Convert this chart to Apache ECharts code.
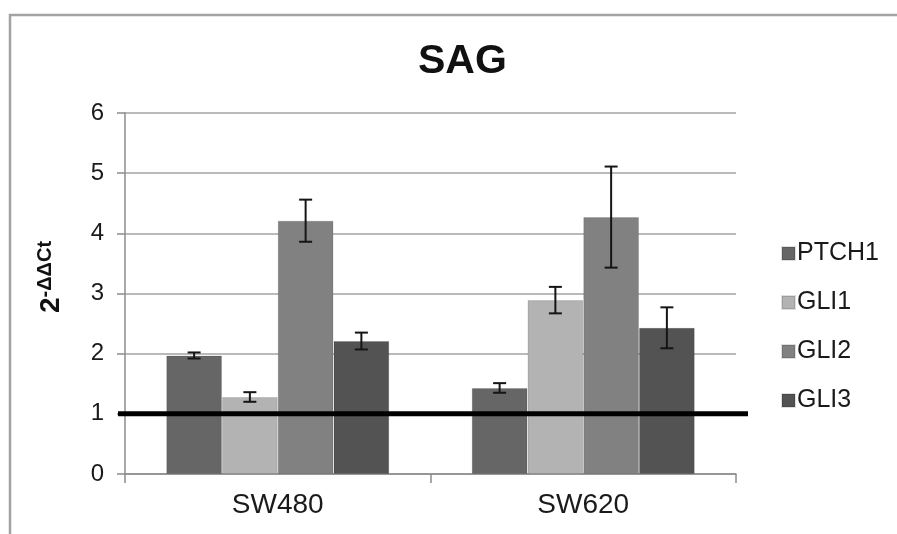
<!DOCTYPE html>
<html>
<head>
<meta charset="utf-8">
<script src="https://cdn.jsdelivr.net/npm/echarts@6/dist/echarts.min.js"></script>
<style>html,body{margin:0;padding:0;background:#fff;}#c{width:897px;height:534px;}</style>
</head>
<body>
<div id="c"></div>
<script>
const categories = ['SW480', 'SW620'];
const seriesNames = ['PTCH1', 'GLI1', 'GLI2', 'GLI3'];
const PTCH1 = [1.97, 1.43];
const GLI1 = [1.28, 2.89];
const GLI2 = [4.21, 4.27];
const GLI3 = [2.21, 2.43];
const PTCH1_err = [0.05, 0.08];
const GLI1_err = [0.08, 0.22];
const GLI2_err = [0.35, 0.84];
const GLI3_err = [0.14, 0.34];
const yTicks = [0, 1, 2, 3, 4, 5, 6];
const refValue = 1;

const values = [PTCH1, GLI1, GLI2, GLI3];
const errs = [PTCH1_err, GLI1_err, GLI2_err, GLI3_err];
const colors = ['#666666', '#b3b3b3', '#818181', '#535353'];
const catGap = 0.27;
const font = "'Liberation Sans', Arial, sans-serif";

const errData = [];
values.forEach((vals, si) => vals.forEach((v, ci) => errData.push([ci, si, v, errs[si][ci]])));

const chart = echarts.init(document.getElementById('c'));
const barSeries = seriesNames.map((n, i) => ({
  name: n, type: 'bar', data: values[i],
  barGap: '0%', barCategoryGap: (catGap * 100) + '%',
  itemStyle: { color: colors[i], borderColor: 'rgba(0,0,0,0.12)', borderWidth: 1 },
  z: 2
}));

chart.setOption({
  animation: false,
  backgroundColor: '#fff',
  textStyle: { fontFamily: font },
  title: {
    text: 'SAG', left: 413, top: 36,
    textStyle: { fontFamily: font, fontSize: 41, fontWeight: 'bold', color: '#111' }
  },
  legend: {
    orient: 'vertical', left: 776, top: 236,
    itemWidth: 13, itemHeight: 13, itemGap: 24, icon: 'rect',
    data: seriesNames,
    textStyle: { fontFamily: font, fontSize: 25, color: '#1a1a1a', lineHeight: 21, padding: [0, 0, 0, -3] }
  },
  grid: { left: 125, right: 161, top: 113, bottom: 60, containLabel: false },
  graphic: [
    { type: 'rect', shape: { x: 10, y: 15, width: 1000, height: 1000 }, style: { fill: 'none', stroke: '#a3a3a3', lineWidth: 2.5 }, silent: true },
    { type: 'text', x: 51, y: 277, rotation: Math.PI / 2,
      style: { text: '{a|2}{b|-ΔΔCt}', align: 'center', verticalAlign: 'middle',
        rich: {
          a: { fontFamily: font, fontSize: 28, fontWeight: 'bold', fill: '#111', lineHeight: 32 },
          b: { fontFamily: font, fontSize: 20, fontWeight: 'bold', fill: '#111', verticalAlign: 'top', lineHeight: 32, padding: [0, 0, 6, 0] }
        } } }
  ],
  xAxis: {
    type: 'category', data: categories,
    axisLine: { lineStyle: { color: '#8c8c8c', width: 1.5 } },
    axisTick: { show: true, length: 9, lineStyle: { color: '#8c8c8c', width: 1.5 } },
    axisLabel: { fontFamily: font, fontSize: 28, color: '#1a1a1a', margin: 17 }
  },
  yAxis: {
    type: 'value', min: yTicks[0], max: yTicks[yTicks.length - 1], interval: 1,
    axisLine: { show: true, lineStyle: { color: '#8c8c8c', width: 1.5 } },
    axisTick: { show: true, length: 8, lineStyle: { color: '#8c8c8c', width: 1.5 } },
    axisLabel: { fontFamily: font, fontSize: 24, color: '#1a1a1a', margin: 21 },
    splitLine: { lineStyle: { color: '#a3a3a3', width: 1.5 } }
  },
  series: barSeries.concat([
    {
      type: 'custom', name: 'err', data: errData, z: 5,
      encode: { x: 0, y: 2 },
      renderItem: (params, api) => {
        const ci = api.value(0), si = api.value(1), v = api.value(2), e = api.value(3);
        const band = api.size([1, 0])[0];
        const bw = band * (1 - catGap) / seriesNames.length;
        const cx = api.coord([ci, v])[0] + (si - (seriesNames.length - 1) / 2) * bw;
        const yt = api.coord([ci, v + e])[1];
        const yb = api.coord([ci, v - e])[1];
        const cap = 6.5;
        const st = { stroke: '#151515', lineWidth: 2 };
        return { type: 'group', children: [
          { type: 'line', shape: { x1: cx, y1: yt, x2: cx, y2: yb }, style: st },
          { type: 'line', shape: { x1: cx - cap, y1: yt, x2: cx + cap, y2: yt }, style: st },
          { type: 'line', shape: { x1: cx - cap, y1: yb, x2: cx + cap, y2: yb }, style: st }
        ] };
      }
    },
    {
      type: 'custom', name: 'ref', data: [[0, refValue]], z: 6,
      encode: { x: 0, y: 1 },
      renderItem: (params, api) => {
        const y = api.coord([0, api.value(1)])[1];
        const cs = params.coordSys;
        return { type: 'line', shape: { x1: cs.x - 7, y1: y, x2: cs.x + cs.width + 12, y2: y },
          style: { stroke: '#000', lineWidth: 5 } };
      }
    }
  ])
});
</script>
</body>
</html>
